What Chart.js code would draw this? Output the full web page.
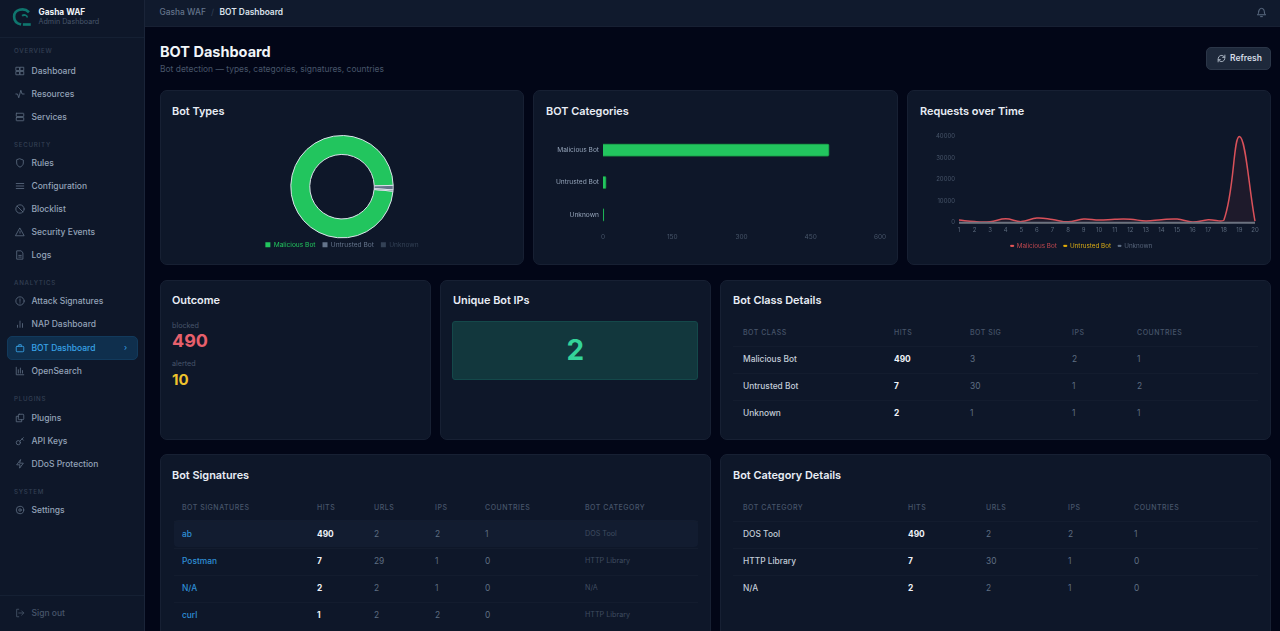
<!DOCTYPE html>
<html><head><meta charset="utf-8">
<script src="https://cdn.jsdelivr.net/npm/chart.js@4/dist/chart.umd.min.js"></script>
<style>
*{box-sizing:border-box;margin:0;padding:0}
html,body{width:1280px;height:631px;overflow:hidden;background:#020617;font-family:Inter,"Noto Sans",sans-serif;color:#e2e8f0}
.a{position:absolute;white-space:nowrap;line-height:1}
.card{position:absolute;background:#0e1729;border:1px solid #172033;border-radius:7px}
.ttl{position:absolute;font-size:10.9px;font-weight:600;color:#e8edf5;white-space:nowrap;line-height:1}
canvas{position:absolute;display:block}
#side{position:absolute;left:0;top:0;width:145px;height:631px;background:#0e1729;border-right:1px solid #1a2438}
#top{position:absolute;left:145px;top:0;width:1135px;height:27px;background:#101a2d;border-bottom:1px solid #172033}
svg.i{position:absolute;width:10px;height:10px;fill:none;stroke:#64748b;stroke-width:2;stroke-linecap:round;stroke-linejoin:round}
</style></head><body>
<div id="side"></div><div id="top"></div><div id="main"></div>
<script>
// ---- data ----
const botTypeLabels = ['Malicious Bot','Untrusted Bot','Unknown'];
const botTypeValues = [490,7,2];
const categoryLabels = ['Malicious Bot','Untrusted Bot','Unknown'];
const categoryValues = [490,7,2];
const categoryTicks = [0,150,300,450,600];
const timeLabels = ['1','2','3','4','5','6','7','8','9','10','11','12','13','14','15','16','17','18','19','20'];
const maliciousSeries = [1200,500,500,1800,500,2200,1500,400,1700,1200,1600,1600,800,1400,1700,300,1400,1200,40000,700];
const untrustedSeries = [40,20,20,40,20,30,30,20,40,30,30,30,20,30,30,10,30,30,100,10];
const unknownSeries = [10,5,5,10,5,10,10,5,10,5,10,10,5,10,10,5,10,5,30,5];
const classHead = ['BOT CLASS','HITS','BOT SIG','IPS','COUNTRIES'];
const classRows = [['Malicious Bot','490','3','2','1'],['Untrusted Bot','7','30','1','2'],['Unknown','2','1','1','1']];
const sigHead = ['BOT SIGNATURES','HITS','URLS','IPS','COUNTRIES','BOT CATEGORY'];
const sigRows = [['ab','490','2','2','1','DOS Tool'],['Postman','7','29','1','0','HTTP Library'],['N/A','2','2','1','0','N/A'],['curl','1','2','2','0','HTTP Library']];
const catHead = ['BOT CATEGORY','HITS','URLS','IPS','COUNTRIES'];
const catRows = [['DOS Tool','490','2','2','1'],['HTTP Library','7','30','1','0'],['N/A','2','2','1','0']];
const navSections = [['OVERVIEW',51.5],['SECURITY',145],['ANALYTICS',283],['PLUGINS',399],['SYSTEM',492]];
const navItems = [['Dashboard',71.5,'grid'],['Resources',94.5,'pulse'],['Services',117.5,'server'],['Rules',163.5,'shield'],['Configuration',186.5,'list'],['Blocklist',209.5,'ban'],['Security Events',232.5,'warn'],['Logs',255.5,'file'],['Attack Signatures',301.5,'shieldx'],['NAP Dashboard',324.5,'bars'],['BOT Dashboard',348,'bot'],['OpenSearch',371.5,'chart'],['Plugins',418.5,'copy'],['API Keys',441.5,'key'],['DDoS Protection',464.5,'bolt'],['Settings',510.5,'gear']];

// ---- page helpers ----
const icons={grid:'<rect x="3" y="3" width="8" height="8"/><rect x="13" y="3" width="8" height="8"/><rect x="3" y="13" width="8" height="8"/><rect x="13" y="13" width="8" height="8"/>',
pulse:'<path d="M2 12h4l3 9 5-18 3 9h5"/>',server:'<rect x="3" y="3" width="18" height="8" rx="1"/><rect x="3" y="13" width="18" height="8" rx="1"/>',
shield:'<path d="M12 2l8 3v7c0 5-4 8-8 10-4-2-8-5-8-10V5z"/>',list:'<path d="M3 6h18M3 12h18M3 18h18"/>',ban:'<circle cx="12" cy="12" r="10"/><path d="M5 5l14 14"/>',
warn:'<path d="M12 3l10 18H2z"/><path d="M12 10v5"/>',file:'<path d="M5 2h10l4 5v15H5z"/><path d="M9 13h6M9 17h6"/>',shieldx:'<circle cx="12" cy="12" r="10"/><path d="M12 7v6M12 16v1"/>',
bars:'<path d="M6 20v-5M12 20V5M18 20v-9"/>',bot:'<rect x="3" y="8" width="18" height="13" rx="2"/><path d="M9 8V4h6v4"/>',chart:'<path d="M3 3v18h18M8 17V9M13 17V5M18 17v-6"/>',
copy:'<rect x="8" y="3" width="13" height="13" rx="2"/><path d="M16 16v5H3V8h5"/>',key:'<circle cx="8" cy="16" r="5"/><path d="M12 12l8-8M17 7l3 3"/>',bolt:'<path d="M13 2L4 14h8l-1 8 9-12h-8z"/>',
gear:'<circle cx="12" cy="12" r="3"/><circle cx="12" cy="12" r="9"/>',out:'<path d="M9 3H4v18h5M16 17l5-5-5-5M21 12H9"/>',bell:'<path d="M6 9a6 6 0 0 1 12 0c0 7 3 8 3 8H3s3-1 3-8M10 21h4"/>',
ref:'<path d="M3 12a9 9 0 0 1 15-6l3 3M21 3v6h-6M21 12a9 9 0 0 1-15 6l-3-3M3 21v-6h6"/>'};
const side=document.getElementById('side'),mainEl=document.getElementById('main');
function txt(parent,s,x,y,size,color,weight,extra){const d=document.createElement('div');d.className='a';d.textContent=s;
 d.style.cssText=`left:${x}px;top:${y-size/2}px;font-size:${size}px;color:${color};font-weight:${weight||400};${extra||''}`;parent.appendChild(d);return d;}
function icon(parent,name,x,y,color,size){const n='http://www.w3.org/2000/svg';const s=document.createElementNS(n,'svg');s.setAttribute('viewBox','0 0 24 24');s.setAttribute('class','i');s.innerHTML=icons[name];
 s.style.left=x+'px';s.style.top=(y-(size||10)/2)+'px';s.style.width=(size||10)+'px';s.style.height=(size||10)+'px';if(color)s.style.stroke=color;parent.appendChild(s);}
function card(x,y,w,h,title,ty,tx){const c=document.createElement('div');c.className='card';c.style.cssText=`left:${x}px;top:${y}px;width:${w}px;height:${h}px`;mainEl.appendChild(c);
 const t=document.createElement('div');t.className='ttl';t.textContent=title;t.style.left=tx+'px';t.style.top=(ty-5.5)+'px';mainEl.appendChild(t);}

// sidebar
const logo=document.createElementNS('http://www.w3.org/2000/svg','svg');logo.setAttribute('viewBox','0 0 24 24');logo.style.cssText='position:absolute;left:11px;top:7px;width:22px;height:21px;fill:none;stroke:#0f766e;stroke-width:3';logo.innerHTML='<path d="M20 6C14 0 3 3 3 11c0 5 4 8 8 9"/><path d="M12 10c3-2 6 0 6 2" stroke-width="2"/><path d="M13 20h9" stroke-width="3"/>';side.appendChild(logo);
txt(side,'Gasha WAF',38.5,12.5,8.3,'#eef2f7',700);
txt(side,'Admin Dashboard',38.5,22,7.2,'#475569',400);
const sl=document.createElement('div');sl.style.cssText='position:absolute;left:0;top:37px;width:144px;height:1px;background:#152033';side.appendChild(sl);
navSections.forEach(s=>txt(side,s[0],14,s[1],6.2,'#344054',500,'letter-spacing:.75px'));
const hl=document.createElement('div');hl.style.cssText='position:absolute;left:7px;top:336px;width:131px;height:24px;background:#0f2f4d;border:1px solid #123a5c;border-radius:5px';side.appendChild(hl);
navItems.forEach(it=>{const act=it[0]==='BOT Dashboard';icon(side,it[2],15,it[1]-.5,act?'#38a3e8':'#5b6b80');txt(side,it[0],31.5,it[1],8.5,act?'#38a3e8':'#94a3b8',500);});
txt(side,'›',124,347,8,'#38a3e8');
const sl2=document.createElement('div');sl2.style.cssText='position:absolute;left:0;top:595px;width:144px;height:1px;background:#152033';side.appendChild(sl2);
icon(side,'out',15,613,'#475569');txt(side,'Sign out',31.5,613.5,8.5,'#475569',500);

// top bar
const topEl=document.getElementById('top');
txt(topEl,'Gasha WAF',14.5,12,8.4,'#64748b',500);txt(topEl,'/',66,12,8.4,'#334155');txt(topEl,'BOT Dashboard',74.5,12,8.4,'#dbe2ec',600);
icon(topEl,'bell',1111,12,'#64748b',11);

// header
txt(mainEl,'BOT Dashboard',160,52,14.5,'#f1f5f9',700);
txt(mainEl,'Bot detection — types, categories, signatures, countries',160,69,8.45,'#475569',400);
const btn=document.createElement('div');btn.style.cssText='position:absolute;left:1206px;top:47px;width:65px;height:23px;background:#1e293b;border:1px solid #2b3648;border-radius:5px';mainEl.appendChild(btn);
icon(mainEl,'ref',1217,58.5,'#cbd5e1',9);txt(mainEl,'Refresh',1230,58,8.5,'#d5dce6',600);

// cards
card(160,90,364,175,'Bot Types',111,172);
card(533,90,365,175,'BOT Categories',111,546);
card(907,90,364,175,'Requests over Time',111,920);
card(160,280,271,160,'Outcome',300.5,172);
card(440,280,271,160,'Unique Bot IPs',300.5,453);
card(720,280,551,160,'Bot Class Details',300.5,733);
card(160,454,551,190,'Bot Signatures',475,172);
card(720,454,551,190,'Bot Category Details',475,733);

// outcome + unique
txt(mainEl,'blocked',172,325.5,7.2,'#475569');
txt(mainEl,'490',172,341,18,'#e8606c',700);
txt(mainEl,'alerted',172,363.5,7.2,'#475569');
txt(mainEl,'10',172,379,15,'#eec32d',700);
const ub=document.createElement('div');ub.style.cssText='position:absolute;left:452px;top:321px;width:246px;height:59px;background:#12373d;border:1px solid #14484a;border-radius:3px';mainEl.appendChild(ub);
txt(mainEl,'2',566.5,350,28,'#34d399',700);

// tables
function table(head,rows,xs,hy,ry,lineX,lineW,opts){opts=opts||{};
 head.forEach((h,i)=>txt(mainEl,h,xs[i],hy,7,'#475569',500,'letter-spacing:.5px'));
 for(let k=0;k<rows.length;k++){const l=document.createElement('div');l.style.cssText=`position:absolute;left:${lineX}px;top:${hy+14+k*27}px;width:${lineW}px;height:1px;background:#131c2e`;mainEl.appendChild(l);}
 rows.forEach((r,k)=>r.forEach((c,i)=>{const y=ry+k*27;
  let col='#5f6e82',w=400,s=8.4;
  if(i===0){col=opts.link?'#2f8fd6':'#c3ccd8';w=500;}
  if(i===1){col='#eef2f7';w=700;}
  if(i===5){col='#3f4c60';s=7.2;}
  txt(mainEl,c,xs[i],y,s,col,w);}));
}
table(classHead,classRows,[743,894,970,1072,1137],332,359,733,525);
const hr=document.createElement('div');hr.style.cssText='position:absolute;left:174px;top:520px;width:524px;height:27px;background:#121c30;border-radius:4px';mainEl.appendChild(hr);
table(sigHead,sigRows,[182,317,374,435,485,585],507,534,174,524,{link:true});
table(catHead,catRows,[743,908,986,1068,1134],507,534,733,525);

// canvases
function cv(x,y,w,h){const c=document.createElement('canvas');c.width=w;c.height=h;c.style.cssText=`left:${x}px;top:${y}px;width:${w}px;height:${h}px`;mainEl.appendChild(c);return c;}
Chart.defaults.font.family='Inter';Chart.defaults.animation=false;

const donutColors=['#22c55e','#64748b','#334155'];
const raiseLegend={id:'raiseLegend',afterLayout(ch){ch.legend.top-=4;ch.legend.bottom-=4;}};
new Chart(cv(161,130,362,132),{type:'doughnut',plugins:[raiseLegend],data:{labels:botTypeLabels,datasets:[{data:botTypeValues,backgroundColor:['#22c55e','#64748b','#475569'],borderColor:'#dbe3ea',borderWidth:1}]},
 options:{responsive:false,cutout:'63%',rotation:95,layout:{padding:{top:5,bottom:0}},plugins:{tooltip:{enabled:false},legend:{position:'bottom',labels:{boxWidth:5,boxHeight:5,padding:7,font:{size:6.6},
  generateLabels:ch=>botTypeLabels.map((l,i)=>({text:l,fillStyle:donutColors[i],strokeStyle:'transparent',lineWidth:0,index:i,fontColor:donutColors[i]}))}}}}});

new Chart(cv(534,126,363,124),{type:'bar',data:{labels:categoryLabels,datasets:[{data:categoryValues,backgroundColor:'#22c55e',borderColor:'#15803d',borderWidth:1,borderRadius:2,barThickness:12.5}]},
 options:{indexAxis:'y',responsive:false,layout:{padding:{top:0,right:17}},plugins:{tooltip:{enabled:false},legend:{display:false}},
 scales:{x:{min:0,max:600,afterBuildTicks:a=>{a.ticks=categoryTicks.map(v=>({value:v}))},grid:{display:false,drawTicks:false},border:{display:false},ticks:{color:'#475569',font:{size:6.5},padding:2,maxRotation:0},afterFit:s=>{s.height=19}},
 y:{grid:{display:false,drawTicks:false},border:{display:false},ticks:{color:'#94a3b8',font:{size:6.6},padding:4},afterFit:s=>{s.width=69}}}}});

const timeColors=['#ef5b5b','#eab308','#64748b'];
new Chart(cv(908,129,362,130),{type:'line',data:{labels:timeLabels,datasets:[
 {label:'Malicious Bot',data:maliciousSeries,borderColor:'#d9515a',backgroundColor:'rgba(239,68,68,.07)',fill:true,tension:.4,pointRadius:0,borderWidth:1.5,order:2},
 {label:'Untrusted Bot',data:untrustedSeries,borderColor:'#eab308',backgroundColor:'transparent',tension:.4,pointRadius:0,borderWidth:1,order:1},
 {label:'Unknown',data:unknownSeries,borderColor:'#6b7280',backgroundColor:'transparent',tension:.4,pointRadius:0,borderWidth:2,order:0}]},
 options:{responsive:false,layout:{padding:{top:6,right:15}},clip:false,plugins:{tooltip:{enabled:false},legend:{position:'bottom',labels:{boxWidth:3,boxHeight:1,padding:7,font:{size:6.3},
  generateLabels:ch=>ch.data.datasets.map((d,i)=>({text:d.label,fillStyle:timeColors[i],strokeStyle:timeColors[i],lineWidth:1,datasetIndex:i,fontColor:['#c2484f','#d9ab14','#56647a'][i]}))}}},
 scales:{x:{grid:{display:false,drawTicks:false},border:{display:false},ticks:{color:'#5b697c',font:{size:6},padding:4,maxRotation:0,autoSkip:false},afterFit:s=>{s.height=13}},
 y:{min:0,max:40000,grid:{display:false,drawTicks:false},border:{display:false},ticks:{stepSize:10000,color:'#475569',font:{size:6},padding:4,callback:v=>String(v)},afterFit:s=>{s.width=51}}}}});
</script></body></html>
